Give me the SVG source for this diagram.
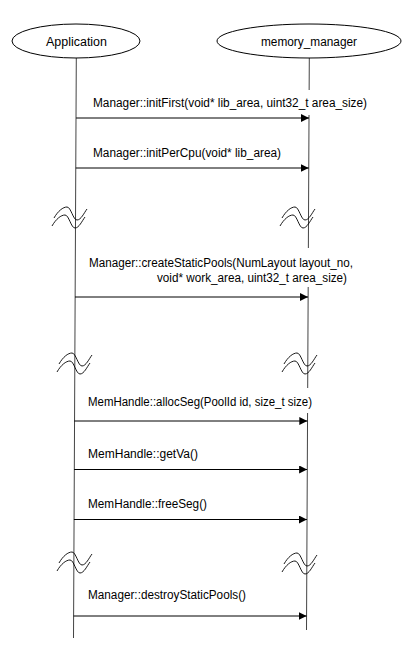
<svg xmlns="http://www.w3.org/2000/svg" width="413" height="652" viewBox="0 0 413 652">
<style>
.life{stroke:#444;stroke-width:1;fill:none}
.actor{fill:#fff;stroke:#000;stroke-width:1}
.t{font-family:"Liberation Sans",Arial,sans-serif;font-size:12px;fill:#000}
.msg{stroke:#000;stroke-width:1;fill:none}
.bg{fill:#fff;stroke:none}
.brk{stroke:#000;stroke-width:0.9;fill:none}
</style>
<defs>
<marker id="ah" markerUnits="userSpaceOnUse" markerWidth="9" markerHeight="8" refX="8" refY="4" orient="auto">
<path d="M0,0 L8,4 L0,8 Z" fill="#000"/>
</marker>
<g id="brk">
<path class="brk" d="M-13,11 C-9,4 -4,0 0,0 C4,0 6,13 10,13 C14,13 17,6 20,2"/>
<path class="brk" d="M-15,19 C-11,12 -6,8 -2,8 C2,8 4,21 8,21 C12,21 15,14 18,10"/>
</g>
</defs>
<g id="lifelines">
<line class="life" x1="76.3" y1="58" x2="73.5" y2="638"/>
<line class="life" x1="309.3" y1="58" x2="306.5" y2="630"/>
</g>
<g id="node-application">
<ellipse class="actor" cx="76" cy="41" rx="64" ry="17"/>
<text class="t" x="76.5" y="46" text-anchor="middle" textLength="61" lengthAdjust="spacingAndGlyphs">Application</text>
</g>
<g id="node-memory_manager">
<ellipse class="actor" cx="309" cy="41" rx="92" ry="17"/>
<text class="t" x="309" y="46" text-anchor="middle" textLength="96" lengthAdjust="spacingAndGlyphs">memory_manager</text>
</g>
<g id="breaks">
<use href="#brk" x="67" y="207"/>
<use href="#brk" x="295" y="207"/>
<use href="#brk" x="72" y="353"/>
<use href="#brk" x="297" y="353"/>
<use href="#brk" x="72" y="552"/>
<use href="#brk" x="297" y="553"/>
</g>
<g id="connectors">
<rect class="bg" x="90" y="90" width="280" height="25"/>
<text class="t" x="93" y="107" textLength="274" lengthAdjust="spacingAndGlyphs">Manager::initFirst(void* lib_area, uint32_t area_size)</text>
<line class="msg" x1="76.1" y1="118" x2="309" y2="118" marker-end="url(#ah)"/>
<text class="t" x="93" y="157" textLength="188" lengthAdjust="spacingAndGlyphs">Manager::initPerCpu(void* lib_area)</text>
<line class="msg" x1="75.8" y1="168" x2="308.7" y2="168" marker-end="url(#ah)"/>
<rect class="bg" x="86" y="248" width="270" height="39"/>
<text class="t" x="89" y="267" textLength="264" lengthAdjust="spacingAndGlyphs">Manager::createStaticPools(NumLayout layout_no,</text>
<text class="t" x="157" y="282" textLength="190" lengthAdjust="spacingAndGlyphs">void* work_area, uint32_t area_size)</text>
<line class="msg" x1="75" y1="297" x2="308" y2="297" marker-end="url(#ah)"/>
<rect class="bg" x="85" y="388" width="230" height="25"/>
<text class="t" x="88" y="406" textLength="224" lengthAdjust="spacingAndGlyphs">MemHandle::allocSeg(PoolId id, size_t size)</text>
<line class="msg" x1="74.3" y1="421" x2="307.3" y2="421" marker-end="url(#ah)"/>
<text class="t" x="88" y="458" textLength="110" lengthAdjust="spacingAndGlyphs">MemHandle::getVa()</text>
<line class="msg" x1="74.1" y1="469.5" x2="307.1" y2="469.5" marker-end="url(#ah)"/>
<text class="t" x="88" y="508" textLength="119" lengthAdjust="spacingAndGlyphs">MemHandle::freeSeg()</text>
<line class="msg" x1="73.9" y1="519.5" x2="306.9" y2="519.5" marker-end="url(#ah)"/>
<text class="t" x="88" y="599" textLength="158" lengthAdjust="spacingAndGlyphs">Manager::destroyStaticPools()</text>
<line class="msg" x1="73.6" y1="616" x2="306.6" y2="616" marker-end="url(#ah)"/>
</g>
</svg>
